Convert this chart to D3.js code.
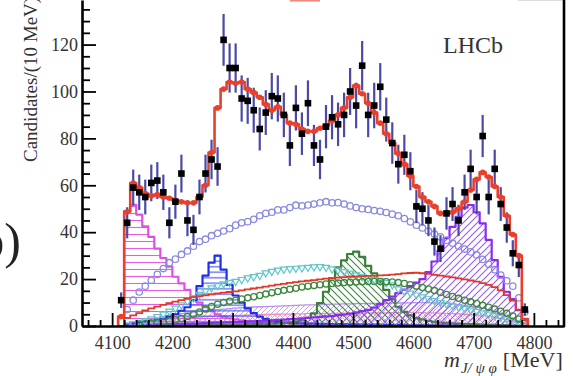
<!DOCTYPE html>
<html><head><meta charset="utf-8">
<script src="https://cdn.jsdelivr.net/npm/d3@7"></script>
<style>body{margin:0;background:#fff} svg{display:block} text{font-family:"Liberation Serif","Times New Roman",serif}</style>
</head><body><svg id="c" width="577" height="376"></svg>
<script>
// bin centres (MeV), 10 MeV bins
const massBins = [4115,4125,4135,4145,4155,4165,4175,4185,4195,4205,
 4215,4225,4235,4245,4255,4265,4275,4285,4295,4305,
 4315,4325,4335,4345,4355,4365,4375,4385,4395,4405,
 4415,4425,4435,4445,4455,4465,4475,4485,4495,4505,
 4515,4525,4535,4545,4555,4565,4575,4585,4595,4605,
 4615,4625,4635,4645,4655,4665,4675,4685,4695,4705,
 4715,4725,4735,4745,4755,4765,4775,4785];
const dataCounts = [11,44,59,57,55,61,62,57,44,53,
 65,45,41,55,65,71,68,122,110,110,
 97,96,92,84,91,98,97,90,77,93,
 82,95,77,71,85,89,86,90,100,94,
 111,90,94,102,88,78,69,73,66,51,
 50,45,36,33,48,52,45,57,67,55,
 81,55,67,52,42,31,26,7];
const totalFit = [4,48.7,61,59,56.5,55.5,56,55,54.5,53.5,
 53,52.5,52.5,55,60,74,93,101,104,103.5,
 104,101,99.5,97.5,94.5,92,93.5,90,86.5,86,
 84,83,83,84.3,85.5,87.5,90,93,97.5,102.5,
 99,95,91,86.5,82,78,73.5,69,64,59.5,
 55,53,51,48,48,48.5,50,53,58,62.5,
 65.5,63.5,59.5,55,47,39,30,3];
const compX4140 = [0,49,51.7,47.5,42.5,38,33,29,25.3,21,
 18.2,15.4,12.5,10,8,6.3,5,4,3.3,2.8,
 2.4,2.1,1.9,1.7,1.5,1.4,1.3,1.2,1.1,1.0,
 1.0,0.9,0.9,0.8,0.8,0.8,0.7,0.7,0.7,0.6,
 0.6,0.6,0.6,0.5,0.5,0.5,0.5,0.5,0.4,0.4,
 0.4,0.4,0.4,0.4,0.3,0.3,0.3,0.3,0.3,0.3,
 0.3,0.2,0.2,0.2,0.2,0.1,0.1,0];
const compX4274 = [0,0.5,1,1.5,2,2.3,2.7,3,4,5,
 6.5,8,11,17,21.5,27,30,24,17.5,13,
 10,7.5,5.5,4,3,2.3,1.8,1.5,1.3,1.2,
 1.1,1,1,0.9,0.9,0.8,0.8,0.7,0.7,0.6,
 0.6,0.5,0.5,0.5,0.4,0.4,0.4,0.3,0.3,0.3,
 0.3,0.3,0.2,0.2,0.2,0.2,0.2,0.1,0.1,0.1,
 0.1,0.1,0.1,0.1,0.1,0,0,0];
const compX4500 = [0,0.2,0.2,0.2,0.3,0.3,0.3,0.3,0.3,0.4,
 0.4,0.4,0.4,0.5,0.5,0.5,0.6,0.6,0.6,0.7,
 0.7,0.8,0.8,0.9,0.9,1,1.1,1.3,1.6,2,
 2.5,3.5,5.4,9.8,14.6,20.3,25,28,30.7,31.7,
 29.5,25.6,22.5,19,15.4,11.5,8.2,6,4.5,3.5,
 2.8,2.2,1.8,1.5,1.3,1.1,1,0.9,0.8,0.7,
 0.6,0.5,0.5,0.4,0.3,0.2,0.1,0];
const compX4700 = [0,0.4,0.5,0.5,0.6,0.6,0.7,0.7,0.8,0.8,
 0.9,1,1,1.1,1.2,1.3,1.4,1.5,1.6,1.7,
 1.8,1.9,2,2.1,2.3,2.4,2.6,2.7,2.9,3.1,
 3.3,3.5,3.7,3.9,4.1,4.3,4.6,4.9,5.3,5.8,
 6.3,6.9,7.8,9.3,11,12.5,14,15.5,17,18.5,
 20,23,27.5,32,37.5,42.3,46.5,50.5,51.6,48.5,
 43.8,36.7,28.1,21,14.6,11.5,6.8,2.6];
const compNR = [0,7,11,14.5,17,19.5,22,24.5,27,28.5,
 30.5,32,34,36,37,38.5,39.5,40.5,41.5,43,
 44,44.5,45.5,47,48,48.5,49.5,49.5,50.5,51.5,
 51.2,51.6,52,52.5,53,52.5,52.6,52,51.2,50.5,
 50,49.7,49.2,48.9,48.4,47.7,47,45.8,44.4,43,
 41.8,40.5,39.2,38,36.6,35.3,34,32.8,31.6,30.3,
 28.4,26.3,24,21.7,19.3,17,12,6];
const compCyan = [0,0.5,1,1.5,2.2,3,4,5,6.3,7.6,
 9,10.5,12,13.5,15,16.2,17.2,18,18.6,19,
 19.8,20.5,21,21.6,22.6,23.3,23.8,24.2,24.4,24.6,
 24.8,25,25.2,25.3,25,24.3,23.8,23.2,22.5,21.8,
 21,20.4,19.8,19.2,18.5,17.5,15.8,14.8,14,13.2,
 12.4,11.6,10.8,10,9.3,8.6,8,7.4,6.8,6.2,
 5.6,5,4.4,3.7,3,2.2,1.4,0.5];
const compRedLine = [0,3.5,4.5,5.5,6.6,7.5,8.3,9,9.7,10.4,
 11,11.7,12.3,12.7,13.1,13.5,13.9,14.2,14.5,14.8,
 15.2,15.6,16,16.4,16.8,17.2,17.6,18,18.4,18.7,
 19,19.3,19.6,19.9,20.2,20.4,20.6,20.8,21,21.1,
 21.3,21.4,21.5,21.6,21.7,21.9,22.1,22.4,22.6,22.7,
 22.5,22.2,21.8,21.5,21.1,20.7,20.3,19.9,19.4,18.9,
 18.3,17.5,16.6,15.2,13.2,10.8,7,2.5];
const compGreenCirc = [0,0.3,0.5,0.7,0.9,1.1,1.4,1.7,2.1,2.6,
 3.2,4,5,6,7.2,8.3,9.3,10,10.6,11,
 11.5,12,12.5,13,13.6,14.2,14.7,15.2,15.7,16.1,
 16.6,17,17.3,17.6,17.9,18.1,18.3,18.5,18.7,18.8,
 18.9,19,19,19,18.9,18.8,18.5,18.1,17.6,17,
 16.4,15.8,15.1,14.3,13.4,12.6,11.8,11,10.3,9.6,
 8.8,8,7.2,6.3,5.4,4.3,3,1.2];
const compLilac = [0,1,1.5,2,2.5,3,3.5,4,4.5,5,
 5.3,5.6,5.9,6.2,6.5,6.8,7,7.2,7.4,7.6,
 7.8,8,8.1,8.2,8.3,8.4,8.5,8.6,8.7,8.8,
 8.9,9,9,9.1,9.2,9.3,9.3,9.4,9.4,9.5,
 9.5,9.6,9.6,9.7,9.7,9.8,9.8,9.9,9.9,10,
 10,10,9.9,9.8,9.6,9.4,9.1,8.8,8.4,8,
 7.5,7,6.3,5.5,4.6,3.5,2.3,1];
const compPink = [0,0.6,0.9,1.2,1.5,1.8,2.1,2.4,2.7,3,
 3.2,3.4,3.6,3.8,4,4.1,4.2,4.3,4.4,4.5,
 4.6,4.7,4.8,4.8,4.9,5,5,5.1,5.1,5.2,
 5.2,5.3,5.3,5.3,5.4,5.4,5.4,5.5,5.5,5.5,
 5.5,5.6,5.6,5.6,5.6,5.7,5.7,5.7,5.7,5.7,
 5.7,5.6,5.6,5.5,5.4,5.3,5.2,5,4.8,4.6,
 4.3,4,3.6,3.2,2.7,2.1,1.4,0.6];
const yMajorTicks = [0,20,40,60,80,100,120];
const xMajorTicks = [4100,4200,4300,4400,4500,4600,4700,4800];

const W=577,H=376;
const x = d3.scaleLinear().domain([4050,4850]).range([82,564]);
const y = d3.scaleLinear().domain([0,139]).range([326,0]);
const svg = d3.select('#c');
svg.append('rect').attr('width',W).attr('height',H).attr('fill','#fff');
const defs = svg.append('defs');
defs.append('clipPath').attr('id','plot').append('rect').attr('x',82).attr('y',-20).attr('width',482).attr('height',346);
function hatch(id,w,h,d,color,sw){
  const p=defs.append('pattern').attr('id',id).attr('patternUnits','userSpaceOnUse').attr('width',w).attr('height',h);
  p.append('path').attr('d',d).attr('stroke',color).attr('stroke-width',sw).attr('fill','none');
}
hatch('hMag',10,7,'M0,3.5H10','#e060e0',1.1);
hatch('hBlue',10,5.5,'M0,2.75H10','#3a50f0',1.1);
const s=7;
hatch('dGreen',s,s,`M0,0L${s},${s}M-1,${s-1}L1,${s+1}M${s-1},-1L${s+1},1`,'#3a8a3a',1.1);
hatch('dPurple',s,s,`M0,${s}L${s},0M-1,1L1,-1M${s-1},${s+1}L${s+1},${s-1}`,'#9a5af0',1.1);
const t=5;
hatch('dLilac',t,t,`M0,${t}L${t},0M-1,1L1,-1M${t-1},${t+1}L${t+1},${t-1}`,'#c6a6f2',1);
hatch('dPink',t,t,`M0,0L${t},${t}M-1,${t-1}L1,${t+1}M${t-1},-1L${t+1},1`,'#f2a6c6',1);

const g = svg.append('g').attr('clip-path','url(#plot)');
function steps(vals){
  const pts=[[massBins[0]-5,0]];
  vals.forEach((v,i)=>{pts.push([massBins[i]-5,v]);pts.push([massBins[i]+5,v]);});
  pts.push([massBins[massBins.length-1]+5,0]);
  return pts;
}
const area = d3.area().x(d=>x(d[0])).y0(y(0)).y1(d=>y(d[1]));
const line = d3.line().x(d=>x(d[0])).y(d=>y(d[1]));
function hist(vals,pat,color,sw){
  const pts=steps(vals);
  g.append('path').attr('d',area(pts)).attr('fill',`url(#${pat})`);
  g.append('path').attr('d',line(pts)).attr('fill','none').attr('stroke',color).attr('stroke-width',sw).attr('stroke-linejoin','round');
}
hist(compLilac,'dLilac','#b890f0',1.3);
hist(compPink,'dPink','#f090c0',1.3);
hist(compX4140,'hMag','#e050e0',2.2);
hist(compX4274,'hBlue','#2030e8',2.2);
hist(compX4500,'dGreen','#3a7f3a',2.2);
hist(compX4700,'dPurple','#8a2cf0',2.2);

// broad open circles
g.selectAll('.nr').data(massBins.map((m,i)=>[m,compNR[i]]).filter(d=>d[1]>0)).enter()
 .append('circle').attr('cx',d=>x(d[0])).attr('cy',d=>y(d[1])).attr('r',3.2)
 .attr('fill','none').attr('stroke','#8a8ae2').attr('stroke-width',1.3);
// cyan triangles
const tri = d3.symbol().type(d3.symbolTriangle).size(22);
g.selectAll('.cy').data(massBins.map((m,i)=>[m,compCyan[i]]).filter(d=>d[1]>0)).enter()
 .append('path').attr('d',tri).attr('transform',d=>`translate(${x(d[0])},${y(d[1])}) rotate(180)`)
 .attr('fill','none').attr('stroke','#62c6c8').attr('stroke-width',1.2);
// green open circles
g.selectAll('.gc').data(massBins.map((m,i)=>[m,compGreenCirc[i]]).filter(d=>d[1]>0.5)).enter()
 .append('circle').attr('cx',d=>x(d[0])).attr('cy',d=>y(d[1])).attr('r',3.1)
 .attr('fill','none').attr('stroke','#3d883d').attr('stroke-width',1.3);
// red thin component
g.append('path').attr('d',line(steps(compRedLine))).attr('fill','none').attr('stroke','#e2382a').attr('stroke-width',1.8);

// error bars
const dpts = massBins.map((m,i)=>[m,dataCounts[i]]).filter(d=>d[1]>0);
g.selectAll('.eb').data(dpts).enter().append('line')
 .attr('x1',d=>x(d[0])).attr('x2',d=>x(d[0]))
 .attr('y1',d=>y(d[1]-Math.sqrt(d[1]))).attr('y2',d=>y(d[1]+Math.sqrt(d[1])))
 .attr('stroke','#4a4aa6').attr('stroke-width',2.2);
// total fit
g.append('path').attr('d',line(steps(totalFit))).attr('fill','none').attr('stroke','#e8402c').attr('stroke-width',2.6).attr('stroke-linejoin','round');
g.selectAll('.fd').data(massBins.map((m,i)=>[m,totalFit[i]]).filter(d=>d[1]>3)).enter()
 .append('circle').attr('cx',d=>x(d[0])).attr('cy',d=>y(d[1])).attr('r',2.8).attr('fill','#e8402c');
// data squares
g.selectAll('.sq').data(dpts).enter().append('rect')
 .attr('x',d=>x(d[0])-3.3).attr('y',d=>y(d[1])-3.3).attr('width',6.6).attr('height',6.6).attr('fill','#000');

// axes
const yMinor = d3.range(5,139,5).filter(v=>v%20!==0);
const xMinor = d3.range(4060,4850,20).filter(v=>v%100!==0);
const ya = svg.append('g').attr('transform','translate(82,0)');
ya.call(d3.axisLeft(y).tickValues(yMajorTicks).tickSize(-14).tickPadding(4).tickSizeOuter(0));
ya.append('g').call(d3.axisLeft(y).tickValues(yMinor).tickSize(-8).tickFormat('').tickSizeOuter(0)).select('.domain').remove();
const xa = svg.append('g').attr('transform','translate(0,326)');
xa.call(d3.axisBottom(x).tickValues(xMajorTicks).tickSize(-13).tickPadding(10).tickSizeOuter(0).tickFormat(d3.format('d')));
xa.append('g').call(d3.axisBottom(x).tickValues(xMinor).tickSize(-6).tickFormat('').tickSizeOuter(0)).select('.domain').remove();
svg.selectAll('.domain').attr('stroke','#000').attr('stroke-width',2.6);
svg.selectAll('.tick line').attr('stroke','#000').attr('stroke-width',1.8);
svg.selectAll('.tick text').attr('font-size',18).attr('fill','#333').attr('font-family','"Liberation Serif",serif');
svg.append('line').attr('x1',564).attr('x2',564).attr('y1',0).attr('y2',327).attr('stroke','#000').attr('stroke-width',2.6);

// legend remnants at top edge
svg.append('rect').attr('x',290).attr('y',0).attr('width',30).attr('height',1.6).attr('fill','#f08a80');
svg.append('rect').attr('x',518).attr('y',0).attr('width',44).attr('height',1).attr('fill','#ddd');

// texts
svg.append('text').attr('transform','translate(37,162) rotate(-90)').attr('font-size',19).attr('fill','#333').text('Candidates/(10 MeV)');
svg.append('text').attr('x',443).attr('y',53).attr('font-size',24).attr('fill','#333').text('LHCb');
svg.append('text').attr('x',21).attr('y',258).attr('text-anchor','end').attr('font-size',50).attr('fill','#222').text('(b)');
const xt = svg.append('text').attr('x',444).attr('y',367).attr('font-size',22).attr('fill','#333');
xt.append('tspan').attr('font-style','italic').text('m');
xt.append('tspan').attr('font-style','italic').attr('font-size',15).attr('dy',6).attr('dx',1).text('J/ ψ φ');
xt.append('tspan').attr('dy',-6).attr('dx',6).text('[MeV]');
</script></body></html>
